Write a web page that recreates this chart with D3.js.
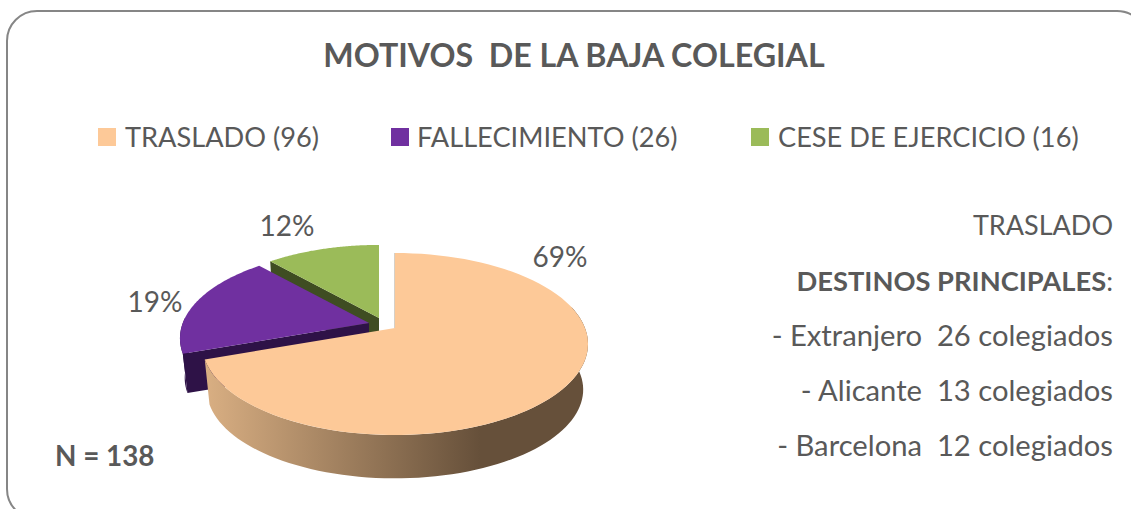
<!DOCTYPE html>
<html><head><meta charset="utf-8">
<script src="https://cdn.jsdelivr.net/npm/d3@7"></script>
<style>html,body{margin:0;padding:0;background:#fff;overflow:hidden}svg{display:block}text{font-family:Lato,"Open Sans",sans-serif;fill:#595959}</style>
</head><body><svg id="c" width="1131" height="509"></svg>
<script>
const categories=["TRASLADO","FALLECIMIENTO","CESE DE EJERCICIO"];
const counts=[96,26,16];
const percentLabels=["69%","19%","12%"];
const sliceColors=["#fdc998","#7030a0","#9bbb59"];
const faceColors=["#6b5540","#2e1247","#3f4d22"];
const titleText="MOTIVOS\u00a0\u00a0DE LA BAJA COLEGIAL";
const noteText="N = 138";
const sideLines=[[["TRASLADO",false]],[["DESTINOS PRINCIPALES",true],[":",false]],[["- Extranjero\u00a0\u00a026 colegiados",false]],[["- Alicante\u00a0\u00a013 colegiados",false]],[["- Barcelona\u00a0\u00a012 colegiados",false]]];

const svg=d3.select("#c");
svg.append("rect").attr("x",7).attr("y",11).attr("width",1140).attr("height",508).attr("rx",30).attr("fill","none").attr("stroke","#868686").attr("stroke-width",2);

const grad=svg.append("defs").append("linearGradient").attr("id","wall").attr("gradientUnits","userSpaceOnUse").attr("x1",208).attr("x2",480).attr("y1",0).attr("y2",0);
grad.append("stop").attr("offset",0).attr("stop-color","#d8ae82");
grad.append("stop").attr("offset",1).attr("stop-color","#66503a");

// perspective pie
const pivot={x:395,y:328},B=190,A=88.2,q=0.176,shrink=0.975;
const offsets=[[0,0],[-26,-5],[-16,-10]];
const radii=[1,0.98,0.97];
const depths=[46,40,40];
function proj(t,r,i,low){const u=Math.sin(t)*r,v=-Math.cos(t)*r,w=1-q*v,s=low?shrink:1;
  return [pivot.x+offsets[i][0]+s*B*u/w, pivot.y+offsets[i][1]+(low?depths[i]:0)+s*A*v/w];}
const arcs=d3.pie().sort(null).value(d=>d)(counts);
const line=d3.line();
function arcPts(a,b,i,low){return d3.range(0,81).map(k=>proj(a+(b-a)*k/80,radii[i],i,low));}
const g=svg.append("g");
function topFace(i){const a=arcs[i];
  g.append("path").attr("d",line([proj(0,0,i,false),...arcPts(a.startAngle,a.endAngle,i,false)])+"Z").attr("fill",sliceColors[i]);}
function cutFace(i,ang){const r=radii[i];
  g.append("path").attr("d",line([proj(0,0,i,false),proj(ang,r,i,false),proj(ang,r,i,true),proj(0,0,i,true)])+"Z").attr("fill",faceColors[i]);}
function wall(i,a,b,fill){
  g.append("path").attr("d",line([...arcPts(a,b,i,false),...arcPts(a,b,i,true).reverse()])+"Z").attr("fill",fill);}
// green
cutFace(2,arcs[2].startAngle);topFace(2);
// purple
wall(1,arcs[1].startAngle,arcs[1].startAngle+0.4,faceColors[1]);
cutFace(1,arcs[1].startAngle);topFace(1);
// traslado
wall(0,Math.PI/2-0.25,arcs[0].endAngle,"url(#wall)");
g.append("line").attr("x1",pivot.x).attr("x2",pivot.x).attr("y1",proj(0,1,0,false)[1]).attr("y2",pivot.y).attr("stroke","#8a7a60").attr("stroke-width",1).attr("opacity",.7);
topFace(0);

// text
svg.append("text").attr("x",574).attr("y",67).attr("text-anchor","middle").attr("font-size",32.2).attr("font-weight",700).text(titleText);
const legendX=[98,391,751],labelX=[125,417,778];
categories.forEach((c,i)=>{
  svg.append("rect").attr("x",legendX[i]).attr("y",128).attr("width",18).attr("height",18).attr("fill",sliceColors[i]);
  svg.append("text").attr("x",labelX[i]).attr("y",147).attr("font-size",27.2).text(`${c} (${counts[i]})`);
});
const pctPos=[[560,267],[155,312],[287,236]];
percentLabels.forEach((t,i)=>svg.append("text").attr("x",pctPos[i][0]).attr("y",pctPos[i][1]).attr("text-anchor","middle").attr("font-size",28).text(t));
svg.append("text").attr("x",55).attr("y",466).attr("font-size",27.8).attr("font-weight",700).text(noteText);
const lineY=[235,291,346,401,456];
const lineSize=[27,27.3,29.2,29.2,29.2];
sideLines.forEach((l,i)=>{
  const t=svg.append("text").attr("x",1113).attr("y",lineY[i]).attr("text-anchor","end").attr("font-size",lineSize[i]);
  l.forEach(s=>t.append("tspan").attr("font-weight",s[1]?700:400).text(s[0]));
});
</script></body></html>
